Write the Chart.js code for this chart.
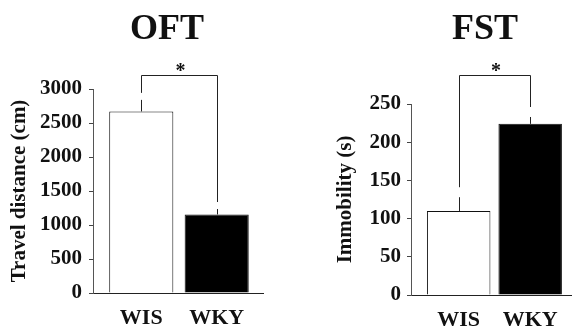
<!DOCTYPE html>
<html>
<head>
<meta charset="utf-8">
<script src="https://cdn.jsdelivr.net/npm/chart.js@4/dist/chart.umd.min.js"></script>
<style>
  html, body { margin: 0; padding: 0; background: #fff; }
  #wrap { position: relative; width: 572px; height: 332px; }
  canvas { position: absolute; top: 0; }
</style>
</head>
<body>
<div id="wrap">
  <canvas id="oft" width="286" height="332" style="left:0"></canvas>
  <canvas id="fst" width="286" height="332" style="left:286px"></canvas>
</div>
<script>
var groups = ["WIS", "WKY"];
var oftMeans = [2670, 1155];
var oftErrors = [170, 80];
var oftTicks = [0, 500, 1000, 1500, 2000, 2500, 3000];
var fstMeans = [110, 224];
var fstErrors = [18, 9];
var fstTicks = [0, 50, 100, 150, 200, 250];
var sigMark = "*";

var serif = "'Liberation Serif', 'Times New Roman', serif";

// upper error bars, significance bracket, panel title
var decor = {
  id: "decor",
  afterDraw: function (chart, args, opts) {
    var ctx = chart.ctx;
    var ys = chart.scales.y;
    var ds = chart.data.datasets[0];
    var bars = chart.getDatasetMeta(0).data;
    var tops = [];
    ctx.save();
    ctx.strokeStyle = "#222";
    ctx.lineWidth = 1;
    bars.forEach(function (bar, i) {
      var x = Math.round(bar.x) + 0.5;
      var yTop = ys.getPixelForValue(ds.data[i].y + ds.errors[i]);
      ctx.beginPath();
      ctx.moveTo(x, bar.y);
      ctx.lineTo(x, yTop);
      ctx.stroke();
      tops.push(yTop);
    });
    var x0 = Math.round(bars[0].x) + 0.5, x1 = Math.round(bars[1].x) + 0.5;
    var yb = Math.round(ys.getPixelForValue(opts.bracketAt)) + 0.5;
    ctx.beginPath();
    ctx.moveTo(x0, tops[0] - opts.gap);
    ctx.lineTo(x0, yb);
    ctx.lineTo(x1, yb);
    ctx.lineTo(x1, tops[1] - opts.gap);
    ctx.stroke();

    ctx.fillStyle = "#111";
    ctx.textAlign = "center";
    ctx.textBaseline = "alphabetic";
    ctx.font = "bold 20px " + serif;
    ctx.fillText(sigMark, (x0 + x1) / 2 + 1, yb + 1);
    ctx.font = "bold 36px " + serif;
    ctx.fillText(opts.title, opts.titleX, opts.titleY);
    ctx.restore();
  }
};

function makeChart(id, means, errs, ticks, cfg) {
  var ctx = document.getElementById(id).getContext("2d");
  return new Chart(ctx, {
    type: "bar",
    data: {
      datasets: [{
        data: means.map(function (m, i) { return { x: i, y: m }; }),
        errors: errs,
        backgroundColor: ["#ffffff", "#000000"],
        borderColor: "#111",
        borderWidth: 1,
        barPercentage: cfg.barPct,
        categoryPercentage: 1
      }]
    },
    plugins: [decor],
    options: {
      responsive: false,
      animation: false,
      layout: { padding: { left: 0, top: cfg.top, right: cfg.right, bottom: 0 } },
      plugins: {
        legend: { display: false },
        tooltip: { enabled: false },
        decor: { bracketAt: cfg.bracketAt, gap: cfg.gap, title: cfg.title, titleX: cfg.titleX, titleY: 39 }
      },
      scales: {
        x: {
          type: "linear",
          offset: false,
          min: cfg.xMin,
          max: cfg.xMax,
          grid: { display: false, drawTicks: false, offset: false },
          border: { display: true, color: "#222", width: 1 },
          afterBuildTicks: function (s) { s.ticks = groups.map(function (g, i) { return { value: i }; }); },
          afterFit: function (s) { s.height = cfg.xHeight; },
          ticks: {
            padding: 12,
            color: "#111",
            font: { family: serif, size: 22, weight: "bold" },
            callback: function (v) { return groups[v]; }
          }
        },
        y: {
          min: 0,
          max: ticks[ticks.length - 1],
          afterBuildTicks: function (s) { s.ticks = ticks.map(function (v) { return { value: v }; }); },
          afterFit: function (s) { s.width = cfg.yWidth; },
          grid: { drawOnChartArea: false, drawTicks: true, tickLength: 4, color: "#444" },
          border: { color: "#555" },
          ticks: {
            padding: cfg.tickPad,
            color: "#111",
            font: { family: serif, size: 21, weight: "bold" },
            callback: function (v) { return String(v); }
          },
          title: {
            display: true,
            text: cfg.yTitle,
            color: "#111",
            font: { family: serif, size: 21, weight: "bold" },
            padding: { top: cfg.titlePad, bottom: 0 }
          }
        }
      }
    }
  });
}

makeChart("oft", oftMeans, oftErrors, oftTicks, {
  title: "OFT", titleX: 167, yTitle: "Travel distance (cm)",
  top: 89, right: 23, yWidth: 93, xHeight: 39,
  xMin: -0.64, xMax: 1.614, barPct: 0.85,
  tickPad: 7, titlePad: 7.4, bracketAt: 3211, gap: 7
});

makeChart("fst", fstMeans, fstErrors, fstTicks, {
  title: "FST", titleX: 199, yTitle: "Immobility (s)",
  top: 104, right: 0, yWidth: 125, xHeight: 37,
  xMin: -0.667, xMax: 1.585, barPct: 0.888,
  tickPad: 6, titlePad: 47.4, bracketAt: 288, gap: 10
});
</script>
</body>
</html>
